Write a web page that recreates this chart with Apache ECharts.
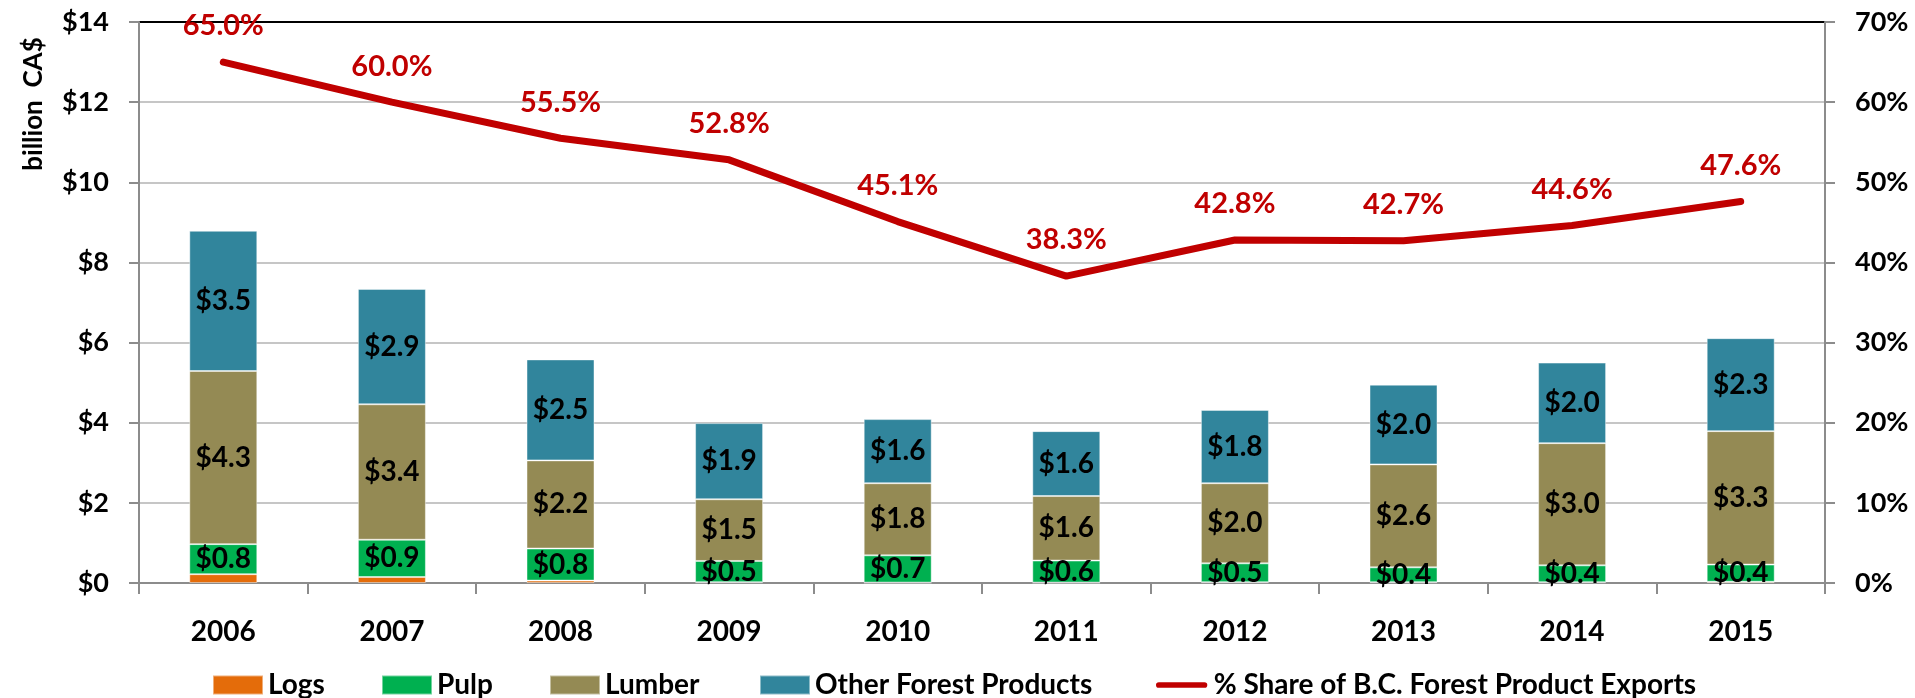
<!DOCTYPE html>
<html>
<head>
<meta charset="utf-8">
<script src="https://cdn.jsdelivr.net/npm/echarts@6/dist/echarts.min.js"></script>
<style>
html, body { margin: 0; padding: 0; background: #fff; }
#main { width: 1915px; height: 698px; }
</style>
</head>
<body>
<div id="main"></div>
<script>
var years = ['2006', '2007', '2008', '2009', '2010', '2011', '2012', '2013', '2014', '2015'];
var logs = [0.22, 0.15, 0.06, 0.02, 0.01, 0.01, 0.02, 0.02, 0.02, 0.03];
var pulp = [0.75, 0.93, 0.80, 0.53, 0.68, 0.55, 0.47, 0.37, 0.42, 0.43];
var lumber = [4.32, 3.38, 2.20, 1.54, 1.80, 1.61, 2.00, 2.57, 3.05, 3.33];
var other = [3.50, 2.88, 2.52, 1.90, 1.60, 1.62, 1.83, 1.99, 2.01, 2.32];
var share = [65.0, 60.0, 55.5, 52.8, 45.1, 38.3, 42.8, 42.7, 44.6, 47.6];
var legendNames = ['Logs', 'Pulp', 'Lumber', 'Other Forest Products', '% Share of B.C. Forest Product Exports'];

~function () {
    var myChart = echarts.init(document.getElementById('main'));
    var font = 'Lato';
    var gridColors = ['#c6c6c6', '#c6c6c6', '#c6c6c6', '#c6c6c6', '#c6c6c6', '#c6c6c6', '#c6c6c6', '#000000'];
    var legendText = { fontFamily: font, fontWeight: 'bold', fontSize: 28, color: '#000' };

    var barLabel = {
        show: true,
        position: 'inside',
        color: '#000',
        fontFamily: font,
        fontWeight: 'bold',
        fontSize: 28,
        formatter: function (p) { return '$' + p.value.toFixed(1); }
    };

    function barSeries(name, data, color, withLabel) {
        return {
            name: name,
            type: 'bar',
            stack: 'total',
            barWidth: 68,
            data: data,
            itemStyle: { color: color, borderColor: 'rgba(255,255,255,0.45)', borderWidth: 1 },
            label: withLabel ? barLabel : { show: false },
            emphasis: { disabled: true }
        };
    }

    // one legend per item so each sits where the original puts it
    var legendLeft = [207, 376, 544, 754, 1151];
    var legends = legendLeft.map(function (x, i) {
        var isLine = i === 4;
        return {
            left: x,
            top: 666,
            icon: isLine ? 'path://M0,0M3,7L51,7A3,3,0,0,1,51,13L3,13A3,3,0,0,1,3,7ZM54,20' : 'rect',
            itemWidth: isLine ? 54 : 50,
            itemHeight: 19,
            itemGap: 6,
            textStyle: legendText,
            data: [legendNames[i]]
        };
    });

    var option = {
        animation: false,
        grid: { left: 139, right: 90, top: 22, bottom: 115 },
        legend: legends,
        graphic: [
            {
                type: 'text',
                x: 34,
                y: 104,
                rotation: Math.PI / 2,
                style: {
                    text: 'billion  CA$',
                    align: 'center',
                    verticalAlign: 'middle',
                    font: 'bold 26px Lato',
                    fill: '#000'
                }
            }
        ],
        xAxis: {
            type: 'category',
            data: years,
            axisLine: { lineStyle: { color: '#8c8c8c', width: 2 } },
            axisTick: { show: true, length: 11, lineStyle: { color: '#8c8c8c', width: 2 } },
            axisLabel: { margin: 35, color: '#000', fontFamily: font, fontWeight: 'bold', fontSize: 28 }
        },
        yAxis: [
            {
                type: 'value',
                min: 0,
                max: 14,
                interval: 2,
                axisLine: { show: true, lineStyle: { color: '#8c8c8c', width: 2 } },
                axisTick: { show: true, length: 10, lineStyle: { color: '#8c8c8c', width: 2 } },
                axisLabel: {
                    margin: 30,
                    color: '#000',
                    fontFamily: font,
                    fontWeight: 'bold',
                    fontSize: 27,
                    formatter: function (v) { return '$' + v; }
                },
                splitLine: { show: true, lineStyle: { color: gridColors, width: 2 } }
            },
            {
                type: 'value',
                min: 0,
                max: 70,
                interval: 10,
                position: 'right',
                axisLine: { show: true, lineStyle: { color: '#8c8c8c', width: 2 } },
                axisTick: { show: true, length: 10, lineStyle: { color: '#8c8c8c', width: 2 } },
                axisLabel: {
                    margin: 30,
                    color: '#000',
                    fontFamily: font,
                    fontWeight: 'bold',
                    fontSize: 27,
                    formatter: '{value}%'
                },
                splitLine: { show: false }
            }
        ],
        series: [
            barSeries('Logs', logs, '#e46c0a', false),
            barSeries('Pulp', pulp, '#00b050', true),
            barSeries('Lumber', lumber, '#948a54', true),
            barSeries('Other Forest Products', other, '#31859c', true),
            {
                name: '% Share of B.C. Forest Product Exports',
                type: 'line',
                yAxisIndex: 1,
                data: share,
                symbol: 'circle',
                symbolSize: 1,
                itemStyle: { color: '#c00000' },
                lineStyle: { color: '#c00000', width: 7, cap: 'round', join: 'round' },
                label: {
                    show: true,
                    position: 'top',
                    distance: 21,
                    color: '#c00000',
                    fontFamily: font,
                    fontWeight: 'bold',
                    fontSize: 29,
                    formatter: function (p) { return p.value.toFixed(1) + '%'; }
                },
                z: 5,
                emphasis: { disabled: true }
            }
        ]
    };
    myChart.setOption(option);
}();
</script>
</body>
</html>
